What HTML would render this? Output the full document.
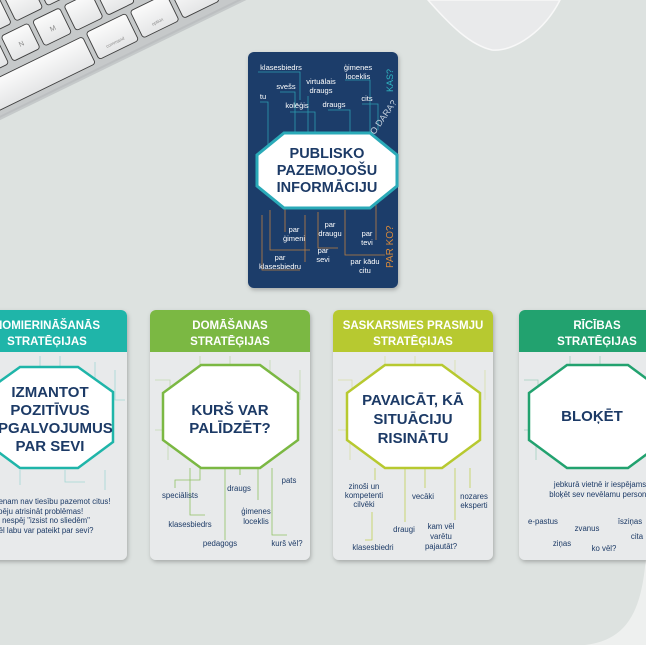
<!DOCTYPE html>
<html><head><meta charset="utf-8"><style>
html,body{margin:0;padding:0;background:#dde2e0;}
svg{display:block;font-family:"Liberation Sans",sans-serif;}
</style></head><body>
<svg width="646" height="645" viewBox="0 0 646 645" xmlns="http://www.w3.org/2000/svg">
<defs>
<filter id="sh" x="-10%" y="-10%" width="120%" height="120%"><feDropShadow dx="1" dy="2" stdDeviation="2" flood-color="#000" flood-opacity="0.25"/></filter>
<linearGradient id="kg" x1="0" y1="0" x2="0" y2="1"><stop offset="0" stop-color="#fbfbfb"/><stop offset="1" stop-color="#e4e5e6"/></linearGradient>
</defs>
<rect width="646" height="645" fill="#dde2e0"/>
<path d="M646 555 C642 615 625 640 585 645 L646 645 Z" fill="#eef0ef"/>
<!-- keyboard -->
<g transform="rotate(-26)">
<rect x="-300" y="-200" width="700" height="306" fill="#c6c9ca"/>
<rect x="-300" y="104" width="700" height="4" fill="#b5b9ba" opacity="0.6"/>
<g stroke="#3d3d3d" stroke-width="0.9" fill="url(#kg)">
<rect x="-200" y="69" width="258" height="30" rx="3"/>
<rect x="63" y="67" width="44" height="30" rx="3"/>
<rect x="112" y="67" width="40" height="30" rx="3"/>
<rect x="157" y="67" width="40" height="30" rx="3"/>
<rect x="-50" y="33" width="30" height="28" rx="3"/>
<rect x="-15" y="33" width="30" height="28" rx="3"/>
<rect x="20" y="33" width="30" height="28" rx="3"/>
<rect x="55" y="33" width="30" height="28" rx="3"/>
<rect x="90" y="33" width="30" height="28" rx="3"/>
<rect x="125" y="33" width="30" height="28" rx="3"/>
<rect x="160" y="33" width="30" height="28" rx="3"/>
<rect x="-30" y="-2" width="30" height="28" rx="3"/>
<rect x="5" y="-2" width="30" height="28" rx="3"/>
<rect x="40" y="-2" width="30" height="28" rx="3"/>
<rect x="75" y="-2" width="30" height="28" rx="3"/>
</g>
<g fill="#888" text-anchor="middle">
<text x="0" y="51" font-size="7">N</text>
<text x="35" y="51" font-size="7">M</text>
<text x="85" y="90" font-size="4.5">command</text>
<text x="132" y="90" font-size="4.5">option</text>
</g>
</g>
<!-- mouse -->
<path d="M428 0 C450 25 470 45 492 50 C515 52 545 30 560 0 Z" fill="#e9eaeb" stroke="#f8f8f8" stroke-width="1.5"/>

<!-- top card -->
<rect x="248" y="52" width="150" height="236" rx="6" fill="#1b3d6a" filter="url(#sh)"/>
<g fill="none" stroke="#2fb3c0" stroke-width="0.8" opacity="0.8">
<path d="M258 72 H300 V100"/><path d="M280 92 H295 V140"/><path d="M260 102 H268 V150"/><path d="M345 80 H370 V150"/><path d="M308 96 V140"/><path d="M290 112 H315 V140"/><path d="M328 110 H350 V140"/><path d="M362 104 H378 V130"/>
</g>
<g fill="none" stroke="#d98a3a" stroke-width="0.8" opacity="0.85">
<path d="M270 210 V250 H310"/><path d="M318 212 V248 H338"/><path d="M285 205 V232"/><path d="M345 210 V255 H385"/><path d="M376 205 V240"/><path d="M262 215 V270 H300"/><path d="M305 215 V262"/>
</g>
<g fill="#ffffff" font-size="7.5" text-anchor="middle">
<text x="281" y="70">klasesbiedrs</text>
<text x="358" y="70">ģimenes</text><text x="358" y="79">loceklis</text>
<text x="286" y="89">svešs</text>
<text x="321" y="84">virtuālais</text><text x="321" y="93">draugs</text>
<text x="263" y="99">tu</text>
<text x="367" y="101">cits</text>
<text x="297" y="108">kolēģis</text>
<text x="334" y="107">draugs</text>
<text x="294" y="232">par</text><text x="294" y="241">ģimeni</text>
<text x="330" y="227">par</text><text x="330" y="236">draugu</text>
<text x="367" y="236">par</text><text x="367" y="245">tevi</text>
<text x="323" y="253">par</text><text x="323" y="262">sevi</text>
<text x="280" y="260">par</text><text x="280" y="269">klasesbiedru</text>
<text x="365" y="264">par kādu</text><text x="365" y="273">citu</text>
</g>
<text x="0" y="0" font-size="9" fill="#2fb3c0" transform="translate(393,92) rotate(-90)">KAS?</text>
<text x="0" y="0" font-size="9" fill="#c9d4e0" transform="translate(371,140) rotate(-55)">KO DARA?</text>
<text x="0" y="0" font-size="10" fill="#d98a3a" transform="translate(393,268) rotate(-90)">PAR KO?</text>
<path d="M284 133 H370 L397 155 V186 L370 208 H284 L257 186 V155 Z" fill="#fff" stroke="#2aaab8" stroke-width="3"/>
<g fill="#1c3a66" font-size="14.5" font-weight="bold" text-anchor="middle">
<text x="327" y="158">PUBLISKO</text><text x="327" y="175">PAZEMOJOŠU</text><text x="327" y="192">INFORMĀCIJU</text>
</g>

<!-- card 1 -->
<g>
<rect x="-33" y="310" width="160" height="250" rx="6" fill="#e8eaeb" filter="url(#sh)"/>
<path d="M-33 316 a6 6 0 0 1 6 -6 H121 a6 6 0 0 1 6 6 V352 H-33 Z" fill="#1fb5a9"/>
<g fill="none" stroke="#1fb5a9" stroke-width="0.8" opacity="0.35"><path d="M40 356 V372"/><path d="M60 356 V370 H80"/><path d="M95 362 V380"/><path d="M115 370 V400 H125"/><path d="M20 470 V485"/><path d="M65 470 V482 H85"/><path d="M105 470 V490"/></g>
<path d="M20 367 H78 L113 392 V442 L78 468 H20 L-15 442 V392 Z" fill="#fff" stroke="#1fb5a9" stroke-width="2.5"/>
<g fill="#1c3a66" font-size="15" font-weight="bold" text-anchor="middle">
<text x="50" y="397">IZMANTOT</text><text x="50" y="415">POZITĪVUS</text><text x="50" y="433">APGALVOJUMUS</text><text x="50" y="451">PAR SEVI</text>
</g>
<g fill="#1c3a66" font-size="7.8">
<text x="-17" y="504">Nevienam nav tiesību pazemot citus!</text>
<text x="-17" y="514">Es spēju atrisināt problēmas!</text>
<text x="-17" y="523">Mani nespēj "izsist no sliedēm"</text>
<text x="-17" y="533">Ko vēl labu var pateikt par sevi?</text>
</g>
<g fill="#fff" font-size="11.5" font-weight="bold" text-anchor="middle"><text x="47" y="329">NOMIERINĀŠANĀS</text><text x="47" y="345">STRATĒĢIJAS</text></g>
</g>

<!-- card 2 -->
<g>
<rect x="150" y="310" width="160" height="250" rx="6" fill="#e8eaeb" filter="url(#sh)"/>
<path d="M150 316 a6 6 0 0 1 6 -6 H304 a6 6 0 0 1 6 6 V352 H150 Z" fill="#7bb843"/>
<g fill="none" stroke="#7bb843" stroke-width="0.8" opacity="0.8"><path d="M190 468 V515 H205"/><path d="M225 468 V540"/><path d="M240 468 V475"/><path d="M258 468 V500"/><path d="M272 468 V535 H287"/><path d="M200 468 V480 H175 V488"/></g>
<g fill="none" stroke="#7bb843" stroke-width="0.8" opacity="0.35"><path d="M200 356 V372"/><path d="M230 356 V366 H255"/><path d="M270 360 V380"/><path d="M300 370 V400"/><path d="M155 380 H170 V400"/><path d="M155 430 H168 V460"/></g>
<path d="M201 365 H260 L298 393 V440 L260 468 H201 L163 440 V393 Z" fill="#fff" stroke="#7bb843" stroke-width="2.5"/>
<g fill="#1c3a66" font-size="15" font-weight="bold" text-anchor="middle"><text x="230" y="415">KURŠ VAR</text><text x="230" y="433">PALĪDZĒT?</text></g>
<g fill="#1c3a66" font-size="7.8" text-anchor="middle">
<text x="289" y="483">pats</text><text x="239" y="491">draugs</text><text x="180" y="498">speciālists</text>
<text x="256" y="514">ģimenes</text><text x="256" y="524">loceklis</text>
<text x="190" y="527">klasesbiedrs</text><text x="220" y="546">pedagogs</text><text x="287" y="546">kurš vēl?</text>
</g>
<g fill="#fff" font-size="11.5" font-weight="bold" text-anchor="middle"><text x="230" y="329">DOMĀŠANAS</text><text x="230" y="345">STRATĒĢIJAS</text></g>
</g>

<!-- card 3 -->
<g>
<rect x="333" y="310" width="160" height="250" rx="6" fill="#e8eaeb" filter="url(#sh)"/>
<path d="M333 316 a6 6 0 0 1 6 -6 H487 a6 6 0 0 1 6 6 V352 H333 Z" fill="#b7c930"/>
<g fill="none" stroke="#b7c930" stroke-width="0.8" opacity="0.8"><path d="M375 468 V480"/><path d="M372 512 V540 H365"/><path d="M405 468 V522"/><path d="M425 468 V488"/><path d="M455 468 V520"/><path d="M470 468 V488"/></g>
<g fill="none" stroke="#b7c930" stroke-width="0.8" opacity="0.35"><path d="M385 356 V372"/><path d="M415 356 V366 H440"/><path d="M455 360 V380"/><path d="M485 370 V400"/><path d="M338 380 H352 V400"/><path d="M338 430 H350 V460"/></g>
<path d="M385 365 H442 L480 393 V440 L442 468 H385 L347 440 V393 Z" fill="#fff" stroke="#b7c930" stroke-width="2.5"/>
<g fill="#1c3a66" font-size="15" font-weight="bold" text-anchor="middle"><text x="413" y="405">PAVAICĀT, KĀ</text><text x="413" y="424">SITUĀCIJU</text><text x="413" y="443">RISINĀTU</text></g>
<g fill="#1c3a66" font-size="7.8" text-anchor="middle">
<text x="364" y="489">zinoši un</text><text x="364" y="498">kompetenti</text><text x="364" y="507">cilvēki</text>
<text x="423" y="499">vecāki</text>
<text x="474" y="499">nozares</text><text x="474" y="508">eksperti</text>
<text x="404" y="532">draugi</text>
<text x="441" y="529">kam vēl</text><text x="441" y="539">varētu</text><text x="441" y="549">pajautāt?</text>
<text x="373" y="550">klasesbiedri</text>
</g>
<g fill="#fff" font-size="11.5" font-weight="bold" text-anchor="middle"><text x="413" y="329">SASKARSMES PRASMJU</text><text x="413" y="345">STRATĒĢIJAS</text></g>
</g>

<!-- card 4 -->
<g>
<rect x="519" y="310" width="160" height="250" rx="6" fill="#e8eaeb" filter="url(#sh)"/>
<path d="M519 316 a6 6 0 0 1 6 -6 H679 V352 H519 Z" fill="#22a26f"/>
<g fill="none" stroke="#22a26f" stroke-width="0.8" opacity="0.35"><path d="M570 356 V372"/><path d="M600 356 V366 H625"/><path d="M524 380 H538 V400"/><path d="M524 430 H536 V460"/></g>
<path d="M567 365 H628 L666 393 V440 L628 468 H567 L529 440 V393 Z" fill="#fff" stroke="#22a26f" stroke-width="2.5"/>
<text x="592" y="421" fill="#1c3a66" font-size="15" font-weight="bold" text-anchor="middle">BLOĶĒT</text>
<g fill="#1c3a66" font-size="7.8" text-anchor="middle">
<text x="600" y="487">jebkurā vietnē ir iespējams</text><text x="600" y="497">bloķēt sev nevēlamu personu</text>
<text x="543" y="524">e-pastus</text><text x="587" y="531">zvanus</text><text x="630" y="524">īsziņas</text>
<text x="637" y="539">cita</text><text x="562" y="546">ziņas</text><text x="604" y="551">ko vēl?</text>
</g>
<g fill="#fff" font-size="11.5" font-weight="bold" text-anchor="middle"><text x="597" y="329">RĪCĪBAS</text><text x="597" y="345">STRATĒĢIJAS</text></g>
</g>
</svg>
</body></html>
